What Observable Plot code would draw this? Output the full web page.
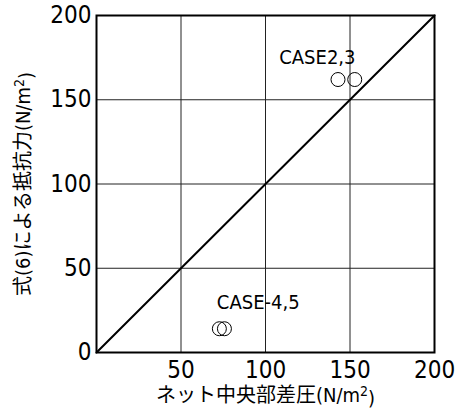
<!DOCTYPE html>
<html>
<head>
<meta charset="utf-8">
<script src="https://cdn.jsdelivr.net/npm/d3@7"></script>
<script src="https://cdn.jsdelivr.net/npm/@observablehq/plot@0.6"></script>
<style>
  html, body { margin: 0; padding: 0; background: #fff; }
</style>
</head>
<body>
<div id="chart"></div>
<script>
const xTicks = [50, 100, 150, 200];
const yTicks = [0, 50, 100, 150, 200];
const pointX = [142.9, 152.8, 72.7, 75.7];
const pointY = [162, 162, 14.1, 14.1];
const caseLabels = ["CASE2,3", "CASE-4,5"];
const caseLabelX = [130.7, 95.7];
const caseLabelY = [175, 29.7];
const refLineX = [0, 200];
const refLineY = [0, 200];
const xTitle = "ネット中央部差圧(N/m²)";
const yTitle = "式(6)による抵抗力(N/m²)";

const FONT = "'DejaVu Sans Condensed', 'DejaVu Sans', 'Noto Sans CJK JP', sans-serif";

const points = pointX.map((x, i) => ({x, y: pointY[i]}));
const labels = caseLabels.map((t, i) => ({t, x: caseLabelX[i], y: caseLabelY[i]}));
const refLine = refLineX.map((x, i) => ({x, y: refLineY[i]}));

const chart = Plot.plot({
  width: 456,
  height: 414,
  marginLeft: 96,
  marginRight: 22,
  marginTop: 15,
  marginBottom: 62,
  style: {fontFamily: FONT, background: "#fff", color: "#000"},
  x: {domain: [0, 200]},
  y: {domain: [0, 200]},
  marks: [
    Plot.gridX(xTicks, {stroke: "#222", strokeOpacity: 1, strokeWidth: 1}),
    Plot.gridY(yTicks, {stroke: "#222", strokeOpacity: 1, strokeWidth: 1}),
    Plot.line(refLine, {x: "x", y: "y", stroke: "#000", strokeWidth: 2}),
    Plot.frame({stroke: "#000", strokeWidth: 2}),
    Plot.dot(points, {x: "x", y: "y", r: 7, stroke: "#000", fill: "none", strokeWidth: 1}),
    Plot.text(labels, {x: "x", y: "y", text: "t", fontSize: 20, fill: "#000", textAnchor: "middle", lineAnchor: "middle"}),
    Plot.axisX(xTicks, {tickSize: 0, tickPadding: 8, fontSize: 24, label: null, fill: "#000", stroke: "#000", strokeWidth: 0.4}),
    Plot.axisY(yTicks, {tickSize: 0, tickPadding: 5, fontSize: 24, label: null, fill: "#000", stroke: "#000", strokeWidth: 0.4}),
    Plot.text([xTitle], {frameAnchor: "bottom", dy: 43, fontSize: 20, fill: "#000", textAnchor: "middle", lineAnchor: "middle"}),
    Plot.text([yTitle], {frameAnchor: "left", dx: -73, rotate: -90, fontSize: 20, fill: "#000", textAnchor: "middle", lineAnchor: "middle"})
  ]
});

// Render the superscript "2" as a raised tspan
d3.select(chart).selectAll("text").each(function() {
  const el = d3.select(this);
  const t = el.text();
  if (t.includes("m²")) {
    const [before, after] = t.split("²");
    el.text(null);
    el.append("tspan").text(before);
    el.append("tspan").attr("dy", "-0.45em").attr("font-size", "0.7em").text("2");
    el.append("tspan").attr("dy", "0.45em").text(after);
  }
});

document.getElementById("chart").appendChild(chart);
</script>
</body>
</html>
